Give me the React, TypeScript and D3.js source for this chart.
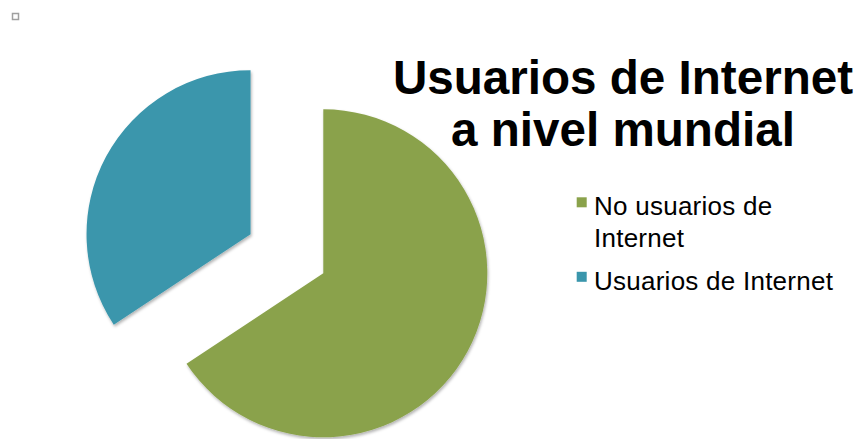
import React from "react";
import * as d3 from "d3";

const categories = ["No usuarios de Internet", "Usuarios de Internet"];
const values = [65.7, 34.3];
const colors = ["#8aa24b", "#3a96ac"];
const explode = [0, 82.6];
const titleLines = ["Usuarios de Internet", "a nivel mundial"];
const legendLines = [["No usuarios de", "Internet"], ["Usuarios de Internet"]];

const W = 860;
const H = 439;
const cx = 323.3;
const cy = 273.3;
const R = 164;

export default function App() {
  const pie = d3
    .pie<number>()
    .sort(null)
    .startAngle(0)
    .endAngle(2 * Math.PI)
    .value((d) => d);
  const arcs = pie(values);
  const arcGen = d3.arc<d3.PieArcDatum<number>>().innerRadius(0).outerRadius(R);

  const legendBaselines = [[215, 246.5], [289.5]];
  const font = "'Liberation Sans', Arial, sans-serif";

  return (
    <svg
      width={W}
      height={H}
      style={{ position: "absolute", left: 0, top: 0, background: "#fff" }}
    >
      <defs>
        <filter id="shadow" x="-10%" y="-10%" width="120%" height="120%">
          <feDropShadow dx="1" dy="2" stdDeviation="1.5" floodColor="#000" floodOpacity="0.3" />
        </filter>
      </defs>
      <rect x={12.5} y={13.5} width={6} height={6} fill="#fff" stroke="#a0a0a0" strokeWidth={1.5} />
      <g transform={`translate(${cx},${cy})`}>
        {arcs.map((a, i) => {
          const mid = (a.startAngle + a.endAngle) / 2;
          const dx = Math.sin(mid) * explode[i];
          const dy = -Math.cos(mid) * explode[i];
          return (
            <path
              key={categories[i]}
              d={arcGen(a) || ""}
              transform={`translate(${dx},${dy})`}
              fill={colors[i]}
              filter="url(#shadow)"
            />
          );
        })}
      </g>
      <g fontFamily={font} fontWeight="bold" fontSize={47.6} fill="#000" textAnchor="middle">
        {titleLines.map((t, i) => (
          <text key={t} x={623} y={93.5 + i * 52.5}>
            {t}
          </text>
        ))}
      </g>
      <g fontFamily={font} fontSize={26} letterSpacing={0.25} fill="#000">
        {legendLines.map((lines, i) => (
          <g key={categories[i]}>
            <rect x={576.7} y={legendBaselines[i][0] - 17.7} width={10} height={10} fill={colors[i]} />
            {lines.map((l, j) => (
              <text key={l} x={594} y={legendBaselines[i][j]}>
                {l}
              </text>
            ))}
          </g>
        ))}
      </g>
    </svg>
  );
}
